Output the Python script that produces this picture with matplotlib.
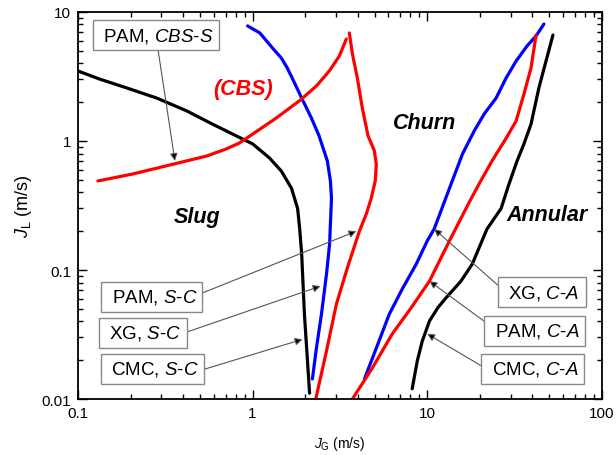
import matplotlib.pyplot as plt
from matplotlib.ticker import LogLocator, FuncFormatter, NullFormatter

plt.rcParams['font.family'] = ['Liberation Sans', 'DejaVu Sans']
plt.rcParams['mathtext.fontset'] = 'custom'
plt.rcParams['mathtext.rm'] = 'Liberation Sans'
plt.rcParams['mathtext.it'] = 'Liberation Sans:italic'

# slug -> churn transitions
cmc_sc_jg = [0.1, 0.133, 0.19, 0.283, 0.42, 0.59, 0.77, 1.0, 1.25, 1.46, 1.67, 1.81,
             1.86, 1.91, 1.98, 2.12]
cmc_sc_jl = [3.49, 3.02, 2.58, 2.15, 1.71, 1.35, 1.13, 0.95, 0.738, 0.585, 0.43, 0.30,
             0.21, 0.133, 0.0456, 0.0111]

xg_sc_jg = [0.936, 1.10, 1.30, 1.46, 1.58, 1.74, 1.91, 2.17, 2.40, 2.68, 2.79, 2.83,
            2.79, 2.76, 2.65, 2.48, 2.32, 2.2]
xg_sc_jl = [7.8, 6.88, 5.26, 4.40, 3.68, 2.81, 2.15, 1.51, 1.1, 0.70, 0.49, 0.36,
            0.227, 0.159, 0.093, 0.0456, 0.0248, 0.0143]

pam_sc_jg = [3.58, 3.73, 3.98, 4.25, 4.58, 4.98, 5.11, 5.04, 4.78, 4.48, 4.09, 3.49,
             3.02, 2.65, 2.3]
pam_sc_jl = [6.88, 4.72, 3.08, 1.80, 1.1, 0.84, 0.66, 0.49, 0.36, 0.272, 0.2, 0.104,
             0.0545, 0.0236, 0.01]

# PAM slug -> CBS
pam_cbs_jg = [0.13, 0.206, 0.349, 0.546, 0.71, 0.84, 1.0, 1.37, 1.88, 2.32, 2.75, 3.14, 3.44]
pam_cbs_jl = [0.49, 0.555, 0.66, 0.765, 0.87, 0.965, 1.13, 1.51, 2.08, 2.67, 3.49, 4.56, 6.17]

# churn -> annular transitions
xg_ca_jg = [4.37, 5.11, 6.07, 7.2, 8.65, 10.0, 10.96, 13.7, 15.9, 18.6,
            21.2, 24.8, 28.3, 32.3, 37.3, 42.0, 46.6]
xg_ca_jl = [0.0143, 0.0248, 0.0456, 0.0713, 0.111, 0.168, 0.208, 0.464,
            0.79, 1.2, 1.62, 2.15, 3.08, 4.17, 5.45, 6.52, 8.07]

pam_ca_jg = [3.73, 4.85, 6.31, 8.1, 10.3, 13.4, 17.3, 19.8, 23.5, 28.3, 32.3, 35.8,
             39.3, 42.0]
pam_ca_jl = [0.01, 0.0174, 0.032, 0.051, 0.082, 0.168, 0.33, 0.464, 0.70, 1.05, 1.43,
             2.31, 3.68, 6.63]

cmc_ca_jg = [8.2, 8.77, 9.36, 10.3, 11.5, 12.8, 15.6, 18.1, 22.0, 26.5, 29.4, 32.7,
             35.8, 39.3, 43.6, 47.9, 52.5]
cmc_ca_jl = [0.012, 0.0197, 0.028, 0.0402, 0.051, 0.0607, 0.082, 0.111, 0.208, 0.30,
             0.464, 0.70, 0.95, 1.35, 2.58, 4.17, 6.63]

fig = plt.figure(figsize=(6.16, 4.56), dpi=100)
ax = fig.add_axes([0.1266, 0.1228, 0.8504, 0.8487])

line = dict(lw=2.3, solid_joinstyle='round', solid_capstyle='round')
ax.plot(cmc_sc_jg, cmc_sc_jl, color='black', **line)
ax.plot(xg_sc_jg, xg_sc_jl, color='blue', **line)
ax.plot(pam_sc_jg, pam_sc_jl, color='red', **line)
ax.plot(pam_cbs_jg, pam_cbs_jl, color='red', **line)
ax.plot(xg_ca_jg, xg_ca_jl, color='blue', **line)
ax.plot(pam_ca_jg, pam_ca_jl, color='red', **line)
ax.plot(cmc_ca_jg, cmc_ca_jl, color='black', **line)

ax.set_xscale('log')
ax.set_yscale('log')
ax.set_xlim(0.1, 100)
ax.set_ylim(0.01, 10)

fmt = FuncFormatter(lambda v, p: '%g' % v)
for axis in (ax.xaxis, ax.yaxis):
    axis.set_major_locator(LogLocator(base=10))
    axis.set_minor_locator(LogLocator(base=10, subs=range(2, 10)))
    axis.set_major_formatter(fmt)
    axis.set_minor_formatter(NullFormatter())
ax.tick_params(which='both', direction='in', top=True, right=True, width=1.0)
ax.tick_params(which='major', length=6.5, labelsize=11, pad=5)
ax.tick_params(which='minor', length=3.5)
for s in ax.spines.values():
    s.set_linewidth(1.3)

ax.set_xlabel(r'$J_\mathrm{G}$ (m/s)', fontsize=10, labelpad=10)
ax.set_ylabel(r'$J_\mathrm{L}$ (m/s)', fontsize=13, labelpad=5)

# regime names
region_font = dict(fontsize=15.5, fontweight='bold', fontstyle='italic', ha='center', va='center')
ax.text(0.877, 2.53, '(CBS)', color='red', **region_font)
ax.text(9.6, 1.38, 'Churn', **region_font)
ax.text(0.479, 0.26, 'Slug', **region_font)
ax.text(48.6, 0.27, 'Annular', **region_font)

box = dict(boxstyle='square,pad=0.28', fc='white', ec='#888888', lw=1.0)
arrow = dict(arrowstyle='-|>', ec='#555555', fc='black', lw=0.8, mutation_scale=11,
             shrinkA=0, shrinkB=0)

labels = [
    ('PAM, ', 'CBS-S', (0.279, 6.63), (0.359, 0.70), (0.5, 0.5)),
    ('PAM, ', 'S-C', (0.265, 0.0618), (3.93, 0.20), (1.0, 0.6)),
    ('XG, ', 'S-C', (0.235, 0.0325), (2.45, 0.075), (1.0, 0.45)),
    ('CMC, ', 'S-C', (0.268, 0.0171), (1.93, 0.029), (1.0, 0.4)),
    ('XG, ', 'C-A', (45.4, 0.0675), (10.96, 0.208), (0.0, 0.6)),
    ('PAM, ', 'C-A', (41.4, 0.0337), (10.3, 0.082), (0.0, 0.8)),
    ('CMC, ', 'C-A', (40.3, 0.0171), (10.0, 0.032), (0.0, 0.5)),
]
for fluid, trans, xytext, xy, rel in labels:
    a = dict(arrow, relpos=rel)
    ax.annotate(' %s$\\it{%s}$ ' % (fluid, trans.replace('-', '}$-$\\it{')),
                xy=xy, xytext=xytext, fontsize=13.5, ha='center', va='center',
                bbox=box, arrowprops=a)

fig.savefig('out.png', dpi=100)
